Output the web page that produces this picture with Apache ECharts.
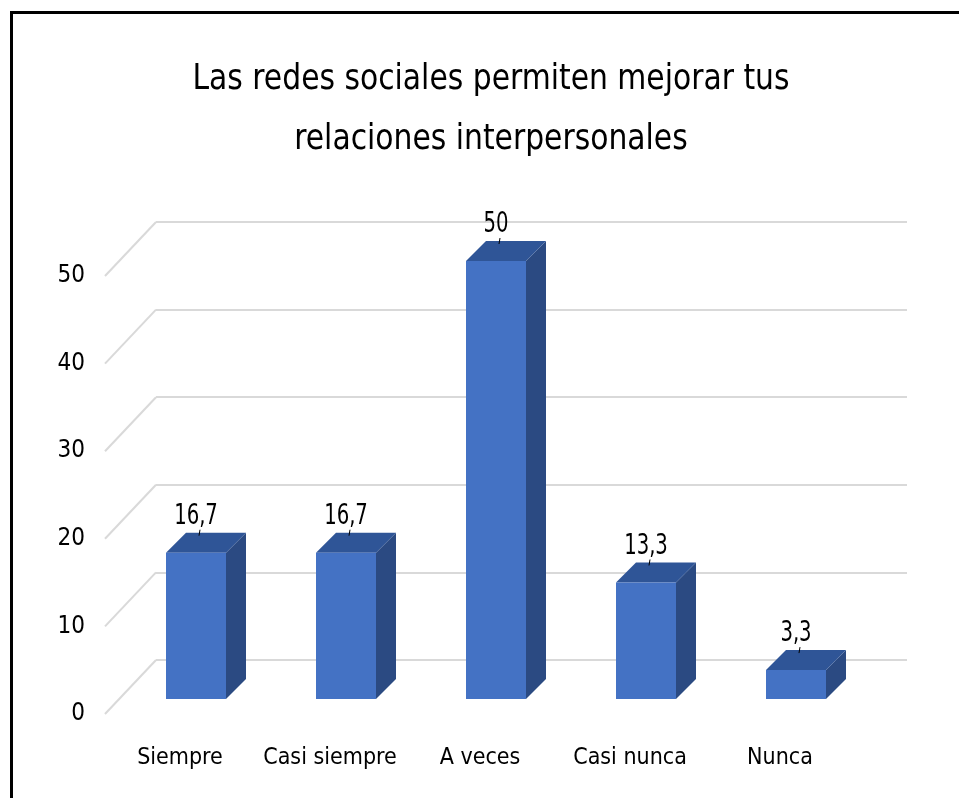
<!DOCTYPE html>
<html>
<head>
<meta charset="utf-8">
<script src="https://cdn.jsdelivr.net/npm/echarts@6/dist/echarts.min.js"></script>
<style>
  html, body { margin: 0; padding: 0; background: #fff; }
  #chart { width: 959px; height: 798px; }
</style>
</head>
<body>
<div id="chart"></div>
<script>
var categories = ["Siempre", "Casi siempre", "A veces", "Casi nunca", "Nunca"];
var values = [16.7, 16.7, 50, 13.3, 3.3];
var yTicks = [0, 10, 20, 30, 40, 50];

var FONT = "'DejaVu Sans Condensed', 'Liberation Sans Narrow', sans-serif";
// perspective: back wall sits this far from the front edge
var WALL_DX = 51, WALL_DY = -54;
// bar placement inside the floor depth
var BAR_DX = 16, BAR_DY = -15, BAR_W = 60, BAR_DEPTH = 20;

var chart = echarts.init(document.getElementById("chart"));

function fmt(v) {
    return String(v).replace(".", ",");
}

chart.setOption({
    animation: false,
    backgroundColor: "#fff",
    graphic: [
        { type: "line", shape: { x1: 10, y1: 12.5, x2: 959, y2: 12.5 }, style: { stroke: "#000", lineWidth: 3 } },
        { type: "line", shape: { x1: 11.5, y1: 11, x2: 11.5, y2: 798 }, style: { stroke: "#000", lineWidth: 3 } },
        {
            type: "text",
            x: 491,
            y: 110,
            scaleX: 0.92,
            style: {
                text: "Las redes sociales permiten mejorar tus\nrelaciones interpersonales",
                font: "36px " + FONT,
                fill: "#000",
                lineHeight: 60,
                align: "center",
                verticalAlign: "middle",
            },
        },
    ],
    grid: [
        // back wall
        { left: 156, right: 52, top: 222, bottom: 138 },
        // front edge of the floor
        { left: 105, right: 104, top: 276, bottom: 84 },
    ],
    xAxis: [
        {
            gridIndex: 0,
            type: "category",
            data: categories,
            axisLine: { show: false },
            axisTick: { show: false },
            axisLabel: { show: false },
        },
        {
            gridIndex: 1,
            type: "category",
            data: categories,
            axisLine: { show: false },
            axisTick: { show: false },
            axisLabel: {
                interval: 0,
                margin: 33,
                color: "#000",
                fontFamily: FONT,
                fontSize: 23,
            },
        },
    ],
    yAxis: [
        {
            gridIndex: 0,
            type: "value",
            min: 0,
            max: 50,
            interval: 10,
            axisLine: { show: false },
            axisTick: { show: false },
            axisLabel: { show: false },
            splitLine: { lineStyle: { color: "#D9D9D9", width: 2 } },
        },
        {
            gridIndex: 1,
            type: "value",
            min: 0,
            max: 50,
            interval: 10,
            axisLine: { show: false },
            axisTick: { show: false },
            splitLine: { show: false },
            axisLabel: {
                margin: 20,
                color: "#000",
                fontFamily: FONT,
                fontSize: 24,
            },
        },
    ],
    series: [
        {
            // slanted lines joining the front ticks to the back wall
            type: "custom",
            xAxisIndex: 1,
            yAxisIndex: 1,
            data: yTicks.map(function (t) { return [0, t]; }),
            silent: true,
            renderItem: function (params, api) {
                var p = api.coord([0, api.value(1)]);
                var band = api.size([1, 0])[0];
                var x = p[0] - band / 2;
                return {
                    type: "line",
                    shape: { x1: x, y1: p[1], x2: x + WALL_DX, y2: p[1] + WALL_DY },
                    style: { stroke: "#D9D9D9", lineWidth: 2 },
                };
            },
        },
        {
            type: "custom",
            xAxisIndex: 1,
            yAxisIndex: 1,
            data: values.map(function (v, i) { return [i, v]; }),
            renderItem: function (params, api) {
                var i = api.value(0), v = api.value(1);
                var base = api.coord([i, 0]);
                var top = api.coord([i, v]);
                var cx = base[0] + BAR_DX;
                var yb = base[1] + BAR_DY;
                var yt = top[1] + BAR_DY;
                var x0 = cx - BAR_W / 2, x1 = cx + BAR_W / 2;
                var d = BAR_DEPTH;
                return {
                    type: "group",
                    children: [
                        {
                            type: "polygon",
                            shape: { points: [[x1, yt], [x1 + d, yt - d], [x1 + d, yb - d], [x1, yb]] },
                            style: { fill: "#2B4A82" },
                        },
                        {
                            type: "polygon",
                            shape: { points: [[x0, yt], [x1, yt], [x1 + d, yt - d], [x0 + d, yt - d]] },
                            style: { fill: "#2F5597" },
                        },
                        {
                            type: "rect",
                            shape: { x: x0, y: yt, width: BAR_W, height: yb - yt },
                            style: { fill: "#4472C4" },
                        },
                        {
                            type: "line",
                            shape: { x1: cx + 4, y1: yt - 23, x2: cx + 3, y2: yt - 17 },
                            style: { stroke: "#000", lineWidth: 1 },
                        },
                        {
                            type: "text",
                            x: cx,
                            y: yt - 36,
                            scaleX: 0.78,
                            style: {
                                text: fmt(v),
                                fill: "#000",
                                font: "28px " + FONT,
                                align: "center",
                                verticalAlign: "middle",
                            },
                        },
                    ],
                };
            },
        },
    ],
});
</script>
</body>
</html>
